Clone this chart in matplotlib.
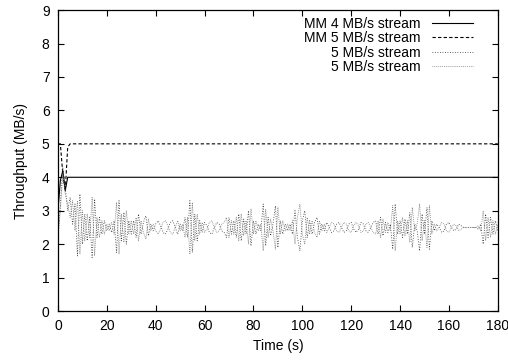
import matplotlib
matplotlib.use("Agg")
from matplotlib import pyplot as plt
import numpy as np

plt.rcParams['font.family'] = ['Liberation Sans', 'DejaVu Sans']

# MM streams (time, throughput)
mm4_t = [0, 1, 2, 3, 4, 5, 180]
mm4_v = [3.0, 3.9, 4.2, 3.6, 4.0, 4.0, 4.0]
mm5_t = [0, 1, 2, 3, 4, 5, 180]
mm5_v = [5.0, 5.0, 4.1, 3.6, 4.9, 5.0, 5.0]

# competing 5 MB/s streams, sampled every second
s3 = [2.1, 3.2, 4.3, 3.7, 3.0, 3.4, 2.6, 3.2, 1.65, 3.5,
      2.0, 2.9, 2.1, 2.8, 1.6, 3.35, 2.2, 2.8, 2.3, 2.7,
      2.4, 2.6, 2.35, 2.7, 1.75, 3.3, 2.1, 2.95, 2.0, 2.7,
      2.3, 2.7, 2.2, 2.9, 2.3, 2.65, 2.85, 2.25, 2.6, 2.4,
      2.6, 2.7, 2.55, 2.35, 2.3, 2.45, 2.65, 2.7, 2.5, 2.3,
      2.6, 2.4, 2.8, 2.2, 3.3, 1.75, 2.9, 2.1, 2.7, 2.35,
      2.65, 2.55, 2.35, 2.3, 2.5, 2.65, 2.6, 2.4, 2.35, 2.2,
      2.8, 2.3, 2.7, 2.2, 2.9, 2.1, 2.75, 2.3, 3.0, 1.95,
      2.7, 2.3, 2.6, 2.4, 3.2, 1.95, 2.8, 2.25, 2.6, 3.15,
      1.9, 2.7, 2.3, 2.6, 2.4, 2.6, 2.3, 3.0, 2.2, 1.8,
      2.7, 3.0, 2.2, 2.7, 2.3, 2.65, 2.8, 2.3, 2.6, 2.4,
      2.65, 2.5, 2.35, 2.4, 2.6, 2.65, 2.5, 2.35, 2.4, 2.6,
      2.65, 2.45, 2.35, 2.45, 2.65, 2.6, 2.4, 2.35, 2.5, 2.65,
      2.7, 2.3, 2.8, 2.25, 2.65, 2.35, 2.6, 1.85, 3.2, 2.3,
      2.7, 2.2, 2.75, 2.3, 2.95, 1.9, 2.6, 2.4, 1.8, 2.9,
      2.3, 3.1, 1.85, 2.7, 2.4, 2.6, 2.5, 2.35, 2.4, 2.6,
      2.65, 2.5, 2.4, 2.45, 2.6, 2.55, 2.5, 2.5, 2.5, 2.5,
      2.5, 2.5, 2.45, 2.6, 2.0, 2.9, 2.2, 2.8, 2.3, 2.7, 2.4]
s4 = [2.2, 3.0, 4.1, 3.5, 3.2, 2.8, 3.3, 2.4, 3.3, 1.7,
      3.0, 2.1, 2.9, 2.2, 3.4, 1.65, 2.8, 2.2, 2.7, 2.3,
      2.6, 2.4, 2.65, 2.3, 3.25, 1.7, 2.9, 2.05, 3.0, 2.3,
      2.7, 2.3, 2.8, 2.1, 2.7, 2.35, 2.15, 2.75, 2.4, 2.6,
      2.4, 2.3, 2.45, 2.65, 2.7, 2.55, 2.35, 2.3, 2.5, 2.7,
      2.4, 2.6, 2.2, 2.8, 1.7, 3.25, 2.1, 2.9, 2.3, 2.65,
      2.35, 2.45, 2.65, 2.7, 2.5, 2.35, 2.4, 2.6, 2.65, 2.8,
      2.2, 2.7, 2.3, 2.8, 2.1, 2.9, 2.25, 2.7, 2.0, 3.05,
      2.3, 2.7, 2.4, 2.6, 1.8, 3.05, 2.2, 2.75, 2.4, 1.85,
      3.1, 2.3, 2.7, 2.4, 2.6, 2.4, 2.7, 2.0, 2.8, 3.2,
      2.3, 2.0, 2.8, 2.3, 2.7, 2.35, 2.2, 2.7, 2.4, 2.6,
      2.35, 2.5, 2.65, 2.6, 2.4, 2.35, 2.5, 2.65, 2.6, 2.4,
      2.35, 2.55, 2.65, 2.55, 2.35, 2.4, 2.6, 2.65, 2.5, 2.35,
      2.3, 2.7, 2.2, 2.75, 2.35, 2.65, 2.4, 3.15, 1.8, 2.7,
      2.3, 2.8, 2.25, 2.7, 2.05, 3.1, 2.4, 2.6, 3.2, 2.1,
      2.7, 1.9, 3.15, 2.3, 2.6, 2.4, 2.5, 2.65, 2.6, 2.4,
      2.35, 2.5, 2.6, 2.55, 2.4, 2.45, 2.5, 2.5, 2.5, 2.5,
      2.5, 2.5, 2.55, 2.4, 3.0, 2.1, 2.8, 2.2, 2.7, 2.3, 2.6]
t = np.arange(len(s3))

labels = ["MM 4 MB/s stream", "MM 5 MB/s stream", "5 MB/s stream", "5 MB/s stream"]

fig = plt.figure(figsize=(5.08, 3.6), dpi=100)
ax = fig.add_axes([0.114, 0.136, 0.866, 0.836])

ax.plot(mm4_t, mm4_v, color='black', lw=0.8, ls='-', label=labels[0])
ax.plot(mm5_t, mm5_v, color='black', lw=0.8, ls=(0, (3, 2)), label=labels[1])
ax.plot(t, s3, color='#333333', lw=0.6, ls=(0, (1, 2)), label=labels[2])
ax.plot(t, s4, color='#808080', lw=0.6, ls=(0, (1, 1.3)), label=labels[3])

ax.set_xlim(0, 180)
ax.set_ylim(0, 9)
ax.set_xticks(range(0, 181, 20))
ax.set_yticks(range(0, 10))
ax.tick_params(direction='in', top=True, right=True, labelsize=10, length=4,
               width=0.8, pad=6)
for s in ax.spines.values():
    s.set_linewidth(0.9)

ax.set_xlabel("Time (s)", fontsize=10, labelpad=4)
ax.set_ylabel("Throughput (MB/s)", fontsize=10, labelpad=10)

ax.legend(loc='upper right', frameon=False, markerfirst=False, fontsize=10,
          handlelength=3.0, labelspacing=0.02, borderaxespad=0.1, handletextpad=0.8,
          bbox_to_anchor=(0.96, 1.0))

fig.savefig("out.png", dpi=100)
